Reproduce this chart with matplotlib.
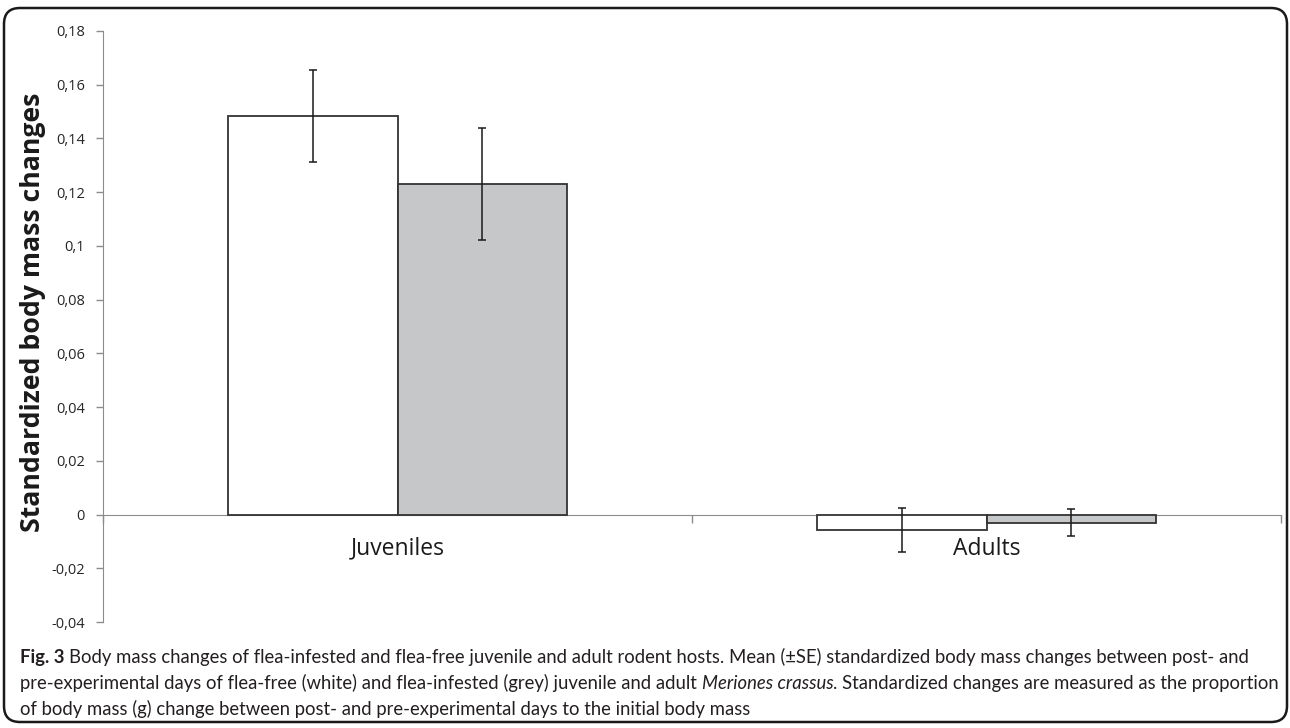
import matplotlib
matplotlib.use("Agg")
import matplotlib.pyplot as plt
from matplotlib.patches import FancyBboxPatch
import numpy as np

# data: mean standardized body mass change (+/- SE)
groups = ["Juveniles", "Adults"]
flea_free_mean = [0.1483, -0.0056]
flea_free_se = [0.0170, 0.0082]
flea_infested_mean = [0.1231, -0.0030]
flea_infested_se = [0.0208, 0.0049]
ytick_values = [-0.04, -0.02, 0, 0.02, 0.04, 0.06, 0.08, 0.1, 0.12, 0.14, 0.16, 0.18]
ytick_labels = ["-0,04", "-0,02", "0", "0,02", "0,04", "0,06", "0,08", "0,1",
                "0,12", "0,14", "0,16", "0,18"]

W, H = 1290, 728
fig = plt.figure(figsize=(W / 100, H / 100), dpi=100)
fig.patch.set_facecolor("white")

# rounded outer frame drawn on a full-figure pixel axes
bg = fig.add_axes([0, 0, 1, 1])
bg.set_xlim(0, W)
bg.set_ylim(H, 0)
bg.axis("off")
bg.add_patch(FancyBboxPatch((4, 8), 1283, 714,
                            boxstyle="round,pad=0,rounding_size=16",
                            facecolor="white", edgecolor="#1a1a1a", lw=1.8))

# main chart axes (pixel box: x 103..1281, y 31..622)
ax = fig.add_axes([103 / W, 1 - 622 / H, 1178 / W, 591 / H])
ax.patch.set_alpha(0)

x = np.arange(len(groups))
bw = 0.287
ax.bar(x - bw / 2, flea_free_mean, bw, color="white", edgecolor="#333333",
       lw=1.3, zorder=2)
ax.bar(x + bw / 2, flea_infested_mean, bw, color="#c6c7c9", edgecolor="#333333",
       lw=1.3, zorder=2)
ax.errorbar(x - bw / 2, flea_free_mean, yerr=flea_free_se, fmt="none",
            ecolor="#1a1a1a", elinewidth=1.1, capsize=3, capthick=1.1, zorder=3)
ax.errorbar(x + bw / 2, flea_infested_mean, yerr=flea_infested_se, fmt="none",
            ecolor="#1a1a1a", elinewidth=1.1, capsize=3, capthick=1.1, zorder=3)

ax.set_xlim(-0.5, len(groups) - 0.5)
ax.set_ylim(-0.04, 0.18)

for s in ["top", "right"]:
    ax.spines[s].set_visible(False)
ax.spines["left"].set_color("#8c8c8c")
ax.spines["bottom"].set_color("#8c8c8c")
ax.spines["bottom"].set_position(("data", 0))
ax.spines["bottom"].set_zorder(1)

ax.set_yticks(ytick_values)
ax.set_yticklabels(ytick_labels, fontfamily="Open Sans", fontsize=10.5,
                   color="#262626")
ax.tick_params(axis="y", length=5, width=1, color="#8c8c8c", pad=8)

ax.set_xticks(x)
ax.set_xticklabels(groups, fontfamily="Open Sans", fontsize=16.5, color="#1a1a1a")
ax.tick_params(axis="x", which="major", length=0, pad=16)
ax.set_xticks(np.arange(-0.5, len(groups)), minor=True)
ax.tick_params(axis="x", which="minor", length=6, width=1, color="#8c8c8c")

fig.text(33 / W, 1 - 312 / H, "Standardized body mass changes", rotation=90,
         ha="center", va="center", fontfamily="Open Sans", fontweight="bold",
         fontsize=19.2, color="#1a1a1a")

# caption, written run by run so bold and italic pieces sit inline
cap_font = "Lato"
cap_color = "#231f20"
cap_left = 20
cap_right = 1279  # right end of the widest caption line
caption_lines = [
    (663, [("Fig. 3", "bold", "normal", False),
           ("Body mass changes of flea-infested and flea-free juvenile and adult rodent hosts. "
            "Mean (\u00b1SE) standardized body mass changes between post- and",
            "normal", "normal", True)]),
    (689, [("pre-experimental days of flea-free (white) and flea-infested (grey) juvenile and adult",
            "normal", "normal", False),
           ("Meriones crassus", "normal", "italic", True),
           (". Standardized changes are measured as the proportion", "normal", "normal", False)]),
    (715, [("of body mass (g) change between post- and pre-experimental days to the initial body mass",
            "normal", "normal", False)]),
]

fig.canvas.draw()
renderer = fig.canvas.get_renderer()


def text_width(s, size, weight="normal", style="normal"):
    t = fig.text(0, 0, s, fontfamily=cap_font, fontsize=size,
                 fontweight=weight, fontstyle=style)
    w = t.get_window_extent(renderer).width
    t.remove()
    return w


def line_width(runs, size):
    sp = text_width("x x", size) - text_width("xx", size)
    total = 0
    for s, weight, style, space_before in runs:
        total += (sp if space_before else 0) + text_width(s, size, weight, style)
    return total


# size the caption so its widest line fills the frame
base = 13.0
widest = max(line_width(runs, base) for _, runs in caption_lines)
cap_size = base * (cap_right - cap_left) / widest
space_w = text_width("x x", cap_size) - text_width("xx", cap_size)

for ybase, runs in caption_lines:
    xpos = cap_left
    for s, weight, style, space_before in runs:
        if space_before:
            xpos += space_w
        t = fig.text(xpos / W, 1 - ybase / H, s, fontfamily=cap_font, fontsize=cap_size,
                     fontweight=weight, fontstyle=style, color=cap_color,
                     ha="left", va="baseline")
        xpos += t.get_window_extent(renderer).width

fig.savefig("out.png", dpi=100)
